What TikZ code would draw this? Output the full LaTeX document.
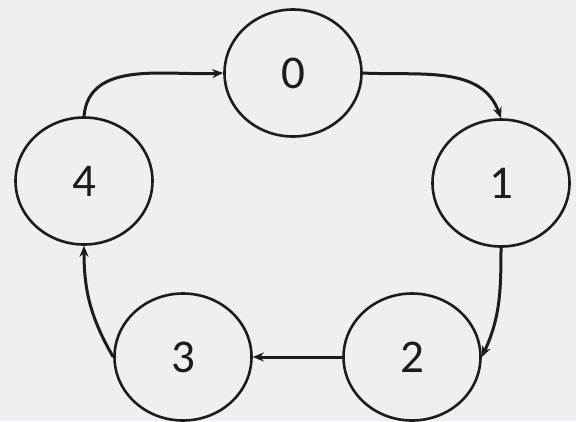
\documentclass[tikz,border=0pt]{standalone}
\usepackage{fontspec}
\setmainfont{Carlito}
\usetikzlibrary{shapes.geometric,arrows.meta}
\definecolor{paper}{RGB}{238,239,242}
\definecolor{ink}{RGB}{28,28,30}
\begin{document}
\begin{tikzpicture}[x=1pt,y=-1pt,
  state/.style={draw=ink,ellipse,line width=2.6pt,minimum width=137pt,minimum height=127pt,
    inner sep=0pt,text=ink,font=\fontsize{47}{47}\selectfont},
  edge/.style={draw=ink,line width=3pt,-{Stealth[length=11pt,width=9pt]}}]
  \fill[paper] (0,0) rectangle (576,421);
  \useasboundingbox (0,0) rectangle (576,421);
  \node[state] (s0) at (293,73) {0};
  \node[state] (s1) at (501,183) {1};
  \node[state] (s2) at (412,357) {2};
  \node[state] (s3) at (183,357) {3};
  \node[state] (s4) at (84,181) {4};
  \draw[edge] (s0.east) to[out=-3,in=110] (s1.north);
  \draw[edge] (s1.south) to[out=-90,in=65] (s2.east);
  \draw[edge] (s2.west) -- (s3.east);
  \draw[edge] (s3.west) to[out=120,in=-90] (s4.south);
  \draw[edge] (s4.north) to[out=85,in=183] (s0.west);
\end{tikzpicture}
\end{document}
